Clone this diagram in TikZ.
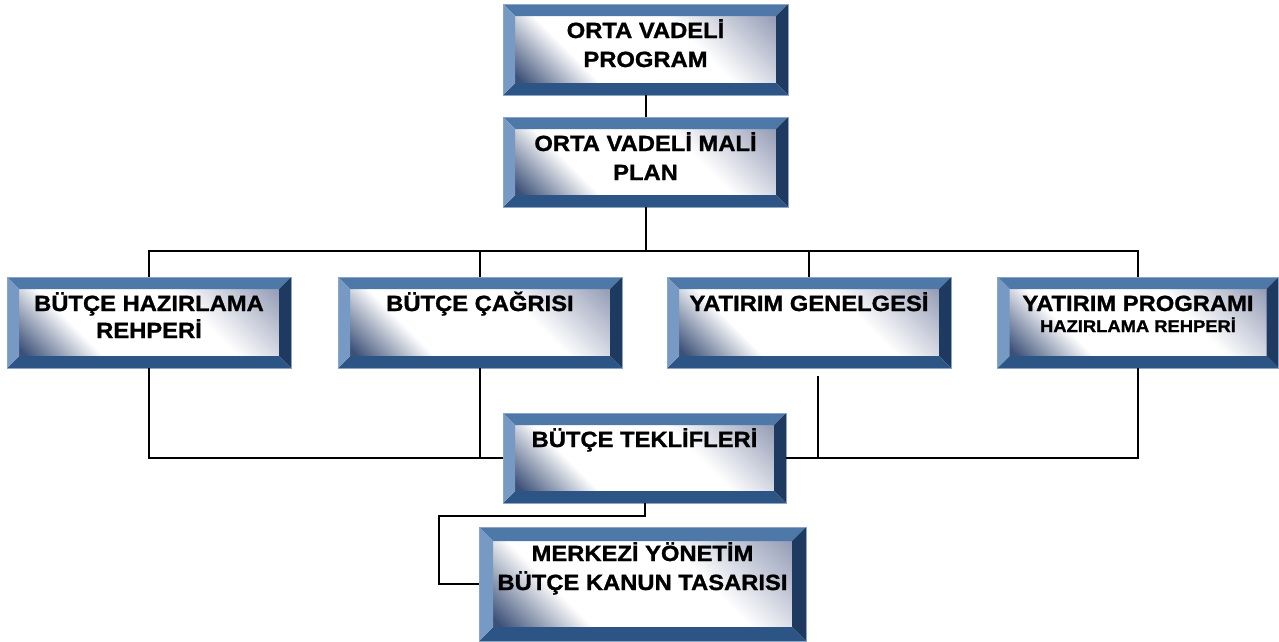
\documentclass[tikz,border=0pt]{standalone}
\usepackage{fontspec}
\setmainfont{Liberation Sans}[FakeStretch=1.08, BoldFeatures={FakeBold=1.2}]
\usetikzlibrary{calc}

\definecolor{bvtop}{RGB}{78,120,168}
\definecolor{bvleft}{RGB}{118,154,196}
\definecolor{bvright}{RGB}{30,58,96}
\definecolor{bvbottom}{RGB}{44,84,132}
\definecolor{bvedge}{RGB}{140,165,196}
\definecolor{facedark}{RGB}{60,80,120}
\definecolor{facelight}{RGB}{145,154,180}

% face of a bevelled button: dark lower-left, white diagonal, grey upper-right
\pgfdeclareverticalshading{bevelface}{100bp}{%
  color(0bp)=(facedark); color(16bp)=(facedark); color(33bp)=(white);
  color(62bp)=(white); color(86bp)=(facelight); color(100bp)=(facelight)}

% four bevel strips and shaded face, #1 = strip width in pt
\newcommand\bevelframe[1]{%
  \coordinate (bo1) at (path picture bounding box.south west);
  \coordinate (bo2) at (path picture bounding box.south east);
  \coordinate (bo3) at (path picture bounding box.north east);
  \coordinate (bo4) at (path picture bounding box.north west);
  \coordinate (bi1) at ($(bo1)+(#1pt,#1pt)$);
  \coordinate (bi2) at ($(bo2)+(-#1pt,#1pt)$);
  \coordinate (bi3) at ($(bo3)+(-#1pt,-#1pt)$);
  \coordinate (bi4) at ($(bo4)+(#1pt,-#1pt)$);
  \shade[shading=bevelface, shading angle=-45] (bi1) rectangle (bi3);
  \fill[bvtop] (bo4) -- (bo3) -- (bi3) -- (bi4) -- cycle;
  \fill[bvright] (bo3) -- (bo2) -- (bi2) -- (bi3) -- cycle;
  \fill[bvbottom] (bo2) -- (bo1) -- (bi1) -- (bi2) -- cycle;
  \fill[bvleft] (bo1) -- (bo4) -- (bi4) -- (bi1) -- cycle;
}

% text block of a button: width, height, contents (top aligned)
\newcommand\btntext[3]{%
  \parbox[c][#2pt][t]{#1pt}{\centering\fontsize{22}{29}\selectfont\bfseries
    \rule{0pt}{34pt}#3}}

\tikzset{
  bevel/.style={rectangle, inner sep=0pt, outer sep=0pt,
    draw=bvedge, line width=0.6pt, path picture={\bevelframe{#1}}},
  link/.style={line width=2pt, black}
}

\begin{document}
\begin{tikzpicture}[x=1pt, y=-1pt]
\useasboundingbox[fill=white] (0,0) rectangle (1279,641);

% buttons
\node[bevel=12] (p1) at (645.5,49.5) {\btntext{285}{91}{ORTA VADELİ\\PROGRAM}};
\node[bevel=12] (p2) at (645.5,162) {\btntext{285}{90}{ORTA VADELİ MALİ\\PLAN}};
\node[bevel=12] (b1) at (149,322.5) {\btntext{284}{91}{BÜTÇE HAZIRLAMA\\[-2pt]REHPERİ}};
\node[bevel=12] (b2) at (480,322.5) {\btntext{284}{91}{BÜTÇE ÇAĞRISI}};
\node[bevel=12] (b3) at (809,322.5) {\btntext{284}{91}{YATIRIM GENELGESİ}};
\node[bevel=12] (b4) at (1138,322.5) {\btntext{281}{91}{YATIRIM PROGRAMI\\[-8pt]{\fontsize{17}{21}\selectfont HAZIRLAMA REHPERİ}}};
\node[bevel=12] (bt) at (644.5,458) {\btntext{283}{90}{BÜTÇE TEKLİFLERİ}};
\node[bevel=14] (m) at (642.5,584) {\btntext{327}{114}{\rule{0pt}{2pt}MERKEZİ YÖNETİM\\BÜTÇE KANUN TASARISI}};

% helper points of the connector runs
\coordinate (bus) at (644,251);
\coordinate (g3) at (818,376);
\coordinate (k) at (439,516);

% connectors
\draw[link] (p1.south) -- (p2.north);
\draw[link] (p2.south) -- (p2.south |- bus);
\draw[link] (b1.north) |- (b4.north |- bus) -- (b4.north);
\draw[link] (b2.north) -- (b2.north |- bus);
\draw[link] (b3.north) -- (b3.north |- bus);
\draw[link] (b1.south) |- (bt.west);
\draw[link] (b2.south) -- (b2.south |- bt.west);
\draw[link] (bt.east) -| (b4.south);
\draw[link] (g3) -- (g3 |- bt.east);
\draw[link] (bt.south) |- (k) |- (m.west);
\end{tikzpicture}
\end{document}
